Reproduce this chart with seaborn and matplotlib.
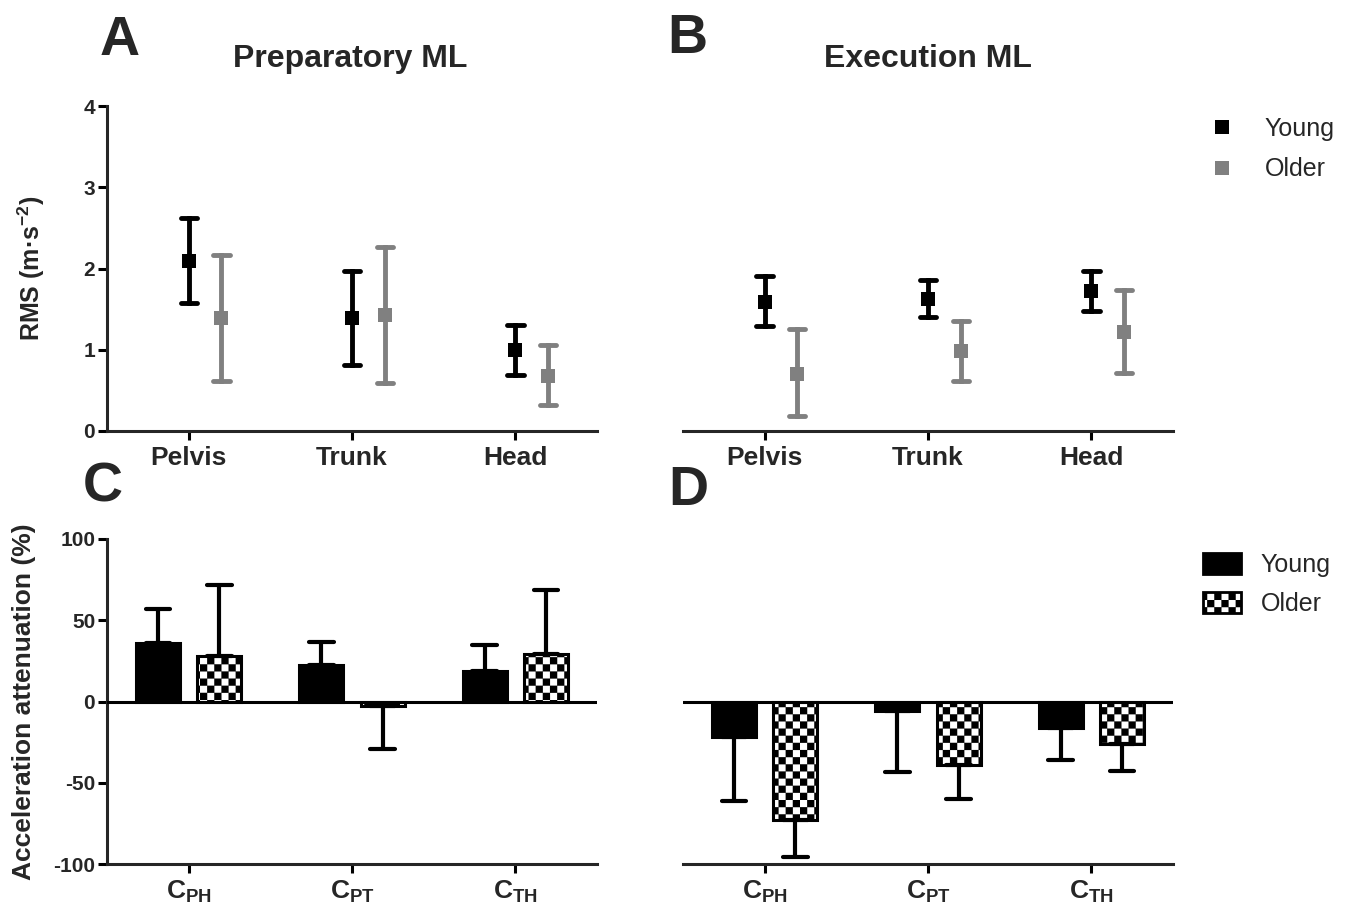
import numpy as np
import pandas as pd
import matplotlib
matplotlib.use("Agg")
import matplotlib.pyplot as plt
import matplotlib.hatch as mhatch
from matplotlib.path import Path
from matplotlib.lines import Line2D
from matplotlib.patches import Patch
import seaborn as sns

# ---------------- data ----------------
regions = ["Pelvis", "Trunk", "Head"]
groups = ["Young", "Older"]

prep_young_mean = [2.09, 1.39, 1.00]
prep_young_lo = [1.57, 0.81, 0.69]
prep_young_hi = [2.62, 1.97, 1.30]
prep_older_mean = [1.39, 1.43, 0.68]
prep_older_lo = [0.62, 0.59, 0.32]
prep_older_hi = [2.17, 2.26, 1.06]

exec_young_mean = [1.59, 1.63, 1.72]
exec_young_lo = [1.29, 1.40, 1.48]
exec_young_hi = [1.91, 1.86, 1.97]
exec_older_mean = [0.70, 0.98, 1.22]
exec_older_lo = [0.18, 0.61, 0.72]
exec_older_hi = [1.25, 1.35, 1.74]

comparisons = [r"$\mathrm{C_{PH}}$", r"$\mathrm{C_{PT}}$", r"$\mathrm{C_{TH}}$"]
prep_att_young = [36.3, 22.2, 18.9]
prep_att_young_err = [56.9, 36.9, 34.9]
prep_att_older = [28.1, -2.5, 29.2]
prep_att_older_err = [71.8, -29.3, 68.6]
exec_att_young = [-22.1, -6.1, -16.0]
exec_att_young_err = [-61.5, -43.2, -35.8]
exec_att_older = [-73.0, -38.9, -26.2]
exec_att_older_err = [-95.9, -59.8, -42.6]


# ---------------- checkerboard hatch ----------------
class CheckerHatch(mhatch.HatchPatternBase):
    def __init__(self, hatch, density):
        k = hatch.count("O")
        self.n = 14 * k
        self.num_vertices = (self.n * self.n // 2) * 5 if k else 0

    def set_vertices_and_codes(self, vertices, codes):
        n = self.n
        s = 1.0 / n
        sq = np.array([[0, 0], [s, 0], [s, s], [0, s], [0, 0]])
        parts = []
        for r in range(n):
            for c in range(n):
                if (r + c) % 2 == 0:
                    parts.append(sq + [c * s, r * s])
        vertices[:] = np.concatenate(parts)
        codes[:] = np.tile([Path.MOVETO, Path.LINETO, Path.LINETO,
                            Path.LINETO, Path.CLOSEPOLY], len(parts))


mhatch._hatch_types = [t for t in mhatch._hatch_types
                       if t is not mhatch.LargeCircles] + [CheckerHatch]

# ---------------- style ----------------
sns.set_style("ticks")
plt.rcParams["font.family"] = ["Liberation Sans", "DejaVu Sans"]
plt.rcParams["mathtext.fontset"] = "custom"
plt.rcParams["mathtext.rm"] = "Liberation Sans:bold"
plt.rcParams["mathtext.bf"] = "Liberation Sans:bold"
plt.rcParams["mathtext.it"] = "Liberation Sans:bold:italic"
plt.rcParams["hatch.linewidth"] = 0.1
plt.rcParams["axes.linewidth"] = 2.2
plt.rcParams["axes.unicode_minus"] = False


def first(v):
    return v.iloc[0]


def span(v):
    return (v.min(), v.max())


def point_frame(ym, ylo, yhi, om, olo, ohi):
    rows = []
    for grp, m, lo, hi in (("Young", ym, ylo, yhi), ("Older", om, olo, ohi)):
        for reg, a, b, c in zip(regions, m, lo, hi):
            for v in (a, b, c):
                rows.append({"region": reg, "group": grp, "value": v})
    return pd.DataFrame(rows)


def bar_frame(ym, yerr, om, oerr):
    rows = []
    for grp, m, e in (("Young", ym, yerr), ("Older", om, oerr)):
        for comp, a, b in zip(comparisons, m, e):
            for v in (a, b):
                rows.append({"comp": comp, "group": grp, "value": v})
    return pd.DataFrame(rows)


W, H = 1355, 914
fig = plt.figure(figsize=(W / 100, H / 100), dpi=100)


def axrect(l, t, r, b):
    return [l / W, 1 - b / H, (r - l) / W, (b - t) / H]


axA = fig.add_axes(axrect(107, 106, 597, 431))
axB = fig.add_axes(axrect(683, 106, 1173, 431))
axC = fig.add_axes(axrect(107, 539, 597, 864))
axD = fig.add_axes(axrect(683, 539, 1173, 864))

point_pal = {"Young": "black", "Older": "#808080"}
bar_pal = {"Young": "black", "Older": "white"}

dfA = point_frame(prep_young_mean, prep_young_lo, prep_young_hi,
                  prep_older_mean, prep_older_lo, prep_older_hi)
dfB = point_frame(exec_young_mean, exec_young_lo, exec_young_hi,
                  exec_older_mean, exec_older_lo, exec_older_hi)

for ax, df in ((axA, dfA), (axB, dfB)):
    sns.pointplot(data=df, x="region", y="value", hue="group",
                  order=regions, hue_order=groups, palette=point_pal,
                  estimator=first, errorbar=span, dodge=0.2, markers="s",
                  linestyle="none", capsize=0.1,
                  err_kws={"linewidth": 3.5, "solid_capstyle": "round"},
                  markersize=10, markeredgewidth=0, legend=False, ax=ax)
    ax.set_xticks(np.arange(len(regions)) - 0.1, labels=regions)
    ax.set_xlim(-0.6, 2.4)
    ax.set_ylim(0, 4)
    ax.set_yticks([0, 1, 2, 3, 4])
    ax.set_xlabel("")
    ax.set_ylabel("")
    sns.despine(ax=ax)

dfC = bar_frame(prep_att_young, prep_att_young_err, prep_att_older, prep_att_older_err)
dfD = bar_frame(exec_att_young, exec_att_young_err, exec_att_older, exec_att_older_err)

for ax, df in ((axC, dfC), (axD, dfD)):
    sns.barplot(data=df, x="comp", y="value", hue="group",
                order=comparisons, hue_order=groups, palette=bar_pal,
                estimator=first, errorbar=span, width=0.75, gap=0.28,
                edgecolor="black", linewidth=2.2, capsize=0.3,
                err_kws={"color": "black", "linewidth": 3},
                legend=False, ax=ax)
    for p in ax.containers[1]:
        p.set_hatch("O")
        p.set_facecolor("white")
    ax.axhline(0, color="black", linewidth=2.2, zorder=3)
    ax.set_xlim(-0.5, 2.5)
    ax.set_ylim(-100, 100)
    ax.set_yticks([-100, -50, 0, 50, 100])
    ax.set_xlabel("")
    ax.set_ylabel("")
    sns.despine(ax=ax)

for ax in (axA, axB, axC, axD):
    ax.tick_params(axis="both", width=2.2, length=6.5, direction="out", color="black")
    ax.tick_params(axis="x", labelsize=19, pad=4)
    ax.tick_params(axis="y", labelsize=15, pad=2)
    for lab in ax.get_xticklabels() + ax.get_yticklabels():
        lab.set_fontweight("bold")

for ax in (axB, axD):
    ax.spines["left"].set_visible(False)
    ax.tick_params(axis="y", left=False, labelleft=False)

axA.set_ylabel(r"RMS (m·s$^{\mathrm{-2}}$)", fontsize=18, fontweight="bold")
axA.yaxis.set_label_coords(-0.122, 0.5)
axC.set_ylabel("Acceleration attenuation (%)", fontsize=19, fontweight="bold")
axC.yaxis.set_label_coords(-0.145, 0.5)


def ftext(x, y, s, **kw):
    fig.text(x / W, 1 - y / H, s, **kw)


ftext(350, 67, "Preparatory ML", fontsize=23, fontweight="bold", ha="center", va="baseline")
ftext(928, 67, "Execution ML", fontsize=23, fontweight="bold", ha="center", va="baseline")
ftext(120, 55, "A", fontsize=40, fontweight="bold", ha="center", va="baseline")
ftext(687, 53, "B", fontsize=40, fontweight="bold", ha="center", va="baseline")
ftext(103, 501, "C", fontsize=40, fontweight="bold", ha="center", va="baseline")
ftext(688, 505, "D", fontsize=40, fontweight="bold", ha="center", va="baseline")

pt_handles = [Line2D([], [], marker="s", linestyle="none", markersize=10,
                     markeredgewidth=0, color=point_pal[g]) for g in groups]
fig.legend(pt_handles, groups, loc="upper left",
           bbox_to_anchor=(1207 / W, 1 - 117 / H), frameon=False,
           fontsize=18, handlelength=1.2, handletextpad=1.1, labelspacing=0.65,
           borderaxespad=0, borderpad=0)

bar_handles = [Patch(facecolor="black", edgecolor="black", linewidth=2),
               Patch(facecolor="white", edgecolor="black", linewidth=2, hatch="O")]
fig.legend(bar_handles, groups, loc="upper left",
           bbox_to_anchor=(1203 / W, 1 - 553 / H), frameon=False,
           fontsize=18, handlelength=1.5, handleheight=0.9, handletextpad=0.8,
           labelspacing=0.6, borderaxespad=0, borderpad=0)

fig.savefig("out.png", dpi=100)
